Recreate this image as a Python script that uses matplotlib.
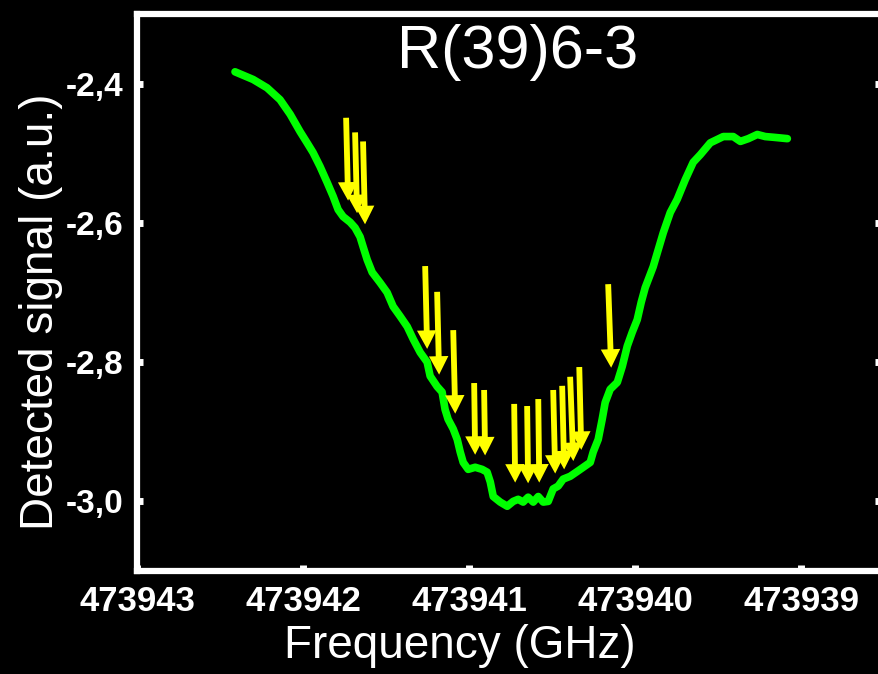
import matplotlib
matplotlib.use("Agg")
import matplotlib.pyplot as plt

plt.rcParams['font.family'] = ['Liberation Sans', 'DejaVu Sans']

# green trace
freq = [473942.410, 473942.301, 473942.217, 473942.139, 473942.078, 473942.018,
        473941.976, 473941.940, 473941.898, 473941.855, 473941.819, 473941.789,
        473941.759, 473941.717, 473941.687, 473941.657, 473941.639, 473941.614,
        473941.584, 473941.536, 473941.494, 473941.458, 473941.416, 473941.373,
        473941.337, 473941.295, 473941.253, 473941.235, 473941.193, 473941.163,
        473941.145, 473941.127, 473941.096, 473941.072, 473941.054, 473941.036,
        473941.006, 473940.964, 473940.922, 473940.892, 473940.873, 473940.855,
        473940.813, 473940.771, 473940.735, 473940.705, 473940.675, 473940.645,
        473940.614, 473940.584, 473940.554, 473940.524, 473940.494, 473940.464,
        473940.434, 473940.392, 473940.349, 473940.313, 473940.271, 473940.253,
        473940.223, 473940.199, 473940.181, 473940.151, 473940.108, 473940.078,
        473940.048, 473940.018, 473939.988, 473939.964, 473939.940, 473939.892,
        473939.861, 473939.831, 473939.789, 473939.747, 473939.699, 473939.651,
        473939.608, 473939.548, 473939.470, 473939.410, 473939.367, 473939.319,
        473939.265, 473939.217, 473939.169, 473939.084]
signal = [-2.383, -2.394, -2.406, -2.423, -2.444, -2.469,
          -2.485, -2.499, -2.519, -2.542, -2.562, -2.581,
          -2.591, -2.599, -2.607, -2.620, -2.634, -2.653,
          -2.671, -2.686, -2.700, -2.720, -2.734, -2.749,
          -2.767, -2.786, -2.800, -2.820, -2.835, -2.843,
          -2.868, -2.882, -2.896, -2.911, -2.929, -2.944,
          -2.954, -2.951, -2.954, -2.958, -2.972, -2.993,
          -3.001, -3.007, -3.000, -2.997, -3.001, -2.994,
          -3.001, -2.993, -3.001, -3.000, -2.982, -2.978,
          -2.968, -2.964, -2.957, -2.951, -2.944, -2.929,
          -2.911, -2.882, -2.858, -2.839, -2.829, -2.806,
          -2.777, -2.757, -2.739, -2.714, -2.693, -2.663,
          -2.638, -2.614, -2.585, -2.566, -2.538, -2.513,
          -2.502, -2.485, -2.476, -2.476, -2.483, -2.479,
          -2.473, -2.476, -2.477, -2.479]

# yellow arrows: tip and tail positions
arrow_tip_x = [473941.729, 473941.675, 473941.627, 473941.253, 473941.181, 473941.084,
               473940.964, 473940.904, 473940.723, 473940.645, 473940.578, 473940.482,
               473940.428, 473940.373, 473940.325, 473940.145]
arrow_tip_y = [-2.568, -2.586, -2.602, -2.781, -2.818, -2.874,
               -2.933, -2.934, -2.973, -2.974, -2.973, -2.960,
               -2.954, -2.942, -2.926, -2.808]
arrow_tail_x = [473941.741, 473941.687, 473941.639, 473941.265, 473941.193, 473941.096,
                473940.970, 473940.910, 473940.729, 473940.651, 473940.584, 473940.494,
                473940.440, 473940.392, 473940.337, 473940.163]
arrow_tail_y = [-2.449, -2.470, -2.483, -2.662, -2.699, -2.754,
                -2.830, -2.840, -2.860, -2.863, -2.853, -2.840,
                -2.834, -2.821, -2.807, -2.688]

xticks = [473943, 473942, 473941, 473940, 473939]
xticklabels = ['473943', '473942', '473941', '473940', '473939']
yticks = [-3.0, -2.8, -2.6, -2.4]
yticklabels = ['-3,0', '-2,8', '-2,6', '-2,4']

fig = plt.figure(figsize=(8.79, 6.74), dpi=100, facecolor='black')
ax = fig.add_axes([0.1559, 0.1528, 0.8464, 0.8264], facecolor='black')

ax.plot(freq, signal, color='#00ff00', lw=5.5, solid_capstyle='round',
        solid_joinstyle='round')

for tx, ty, sx, sy in zip(arrow_tip_x, arrow_tip_y, arrow_tail_x, arrow_tail_y):
    ax.annotate('', xy=(tx, ty), xytext=(sx, sy),
                arrowprops=dict(arrowstyle='simple,head_length=0.95,head_width=1.0,tail_width=0.3',
                                fc='#ffff00', ec='none', mutation_scale=14,
                                shrinkA=0, shrinkB=0))

ax.set_xlim(473943, 473938.52)
ax.set_ylim(-3.1, -2.3)
ax.set_xticks(xticks)
ax.set_xticklabels(xticklabels, fontsize=25, fontweight='bold', color='white')
ax.set_yticks(yticks)
ax.set_yticklabels(yticklabels, fontsize=24, fontweight='bold', color='white')
ax.tick_params(direction='in', length=4, width=5, color='white', pad=10,
               right=True)

for s in ax.spines.values():
    s.set_color('white')
    s.set_linewidth(4.5)

ax.set_xlabel('Frequency (GHz)', fontsize=33, color='white', labelpad=10)
ax.xaxis.set_label_coords(0.434, -0.095)
ax.set_ylabel('Detected signal (a.u.)', fontsize=33, color='white')
ax.yaxis.set_label_coords(-0.099, 0.465)
ax.text(0.511, 0.903, 'R(39)6-3', transform=ax.transAxes, fontsize=44,
        color='white', ha='center', va='baseline')

fig.savefig('out.png', dpi=100, facecolor='black')
